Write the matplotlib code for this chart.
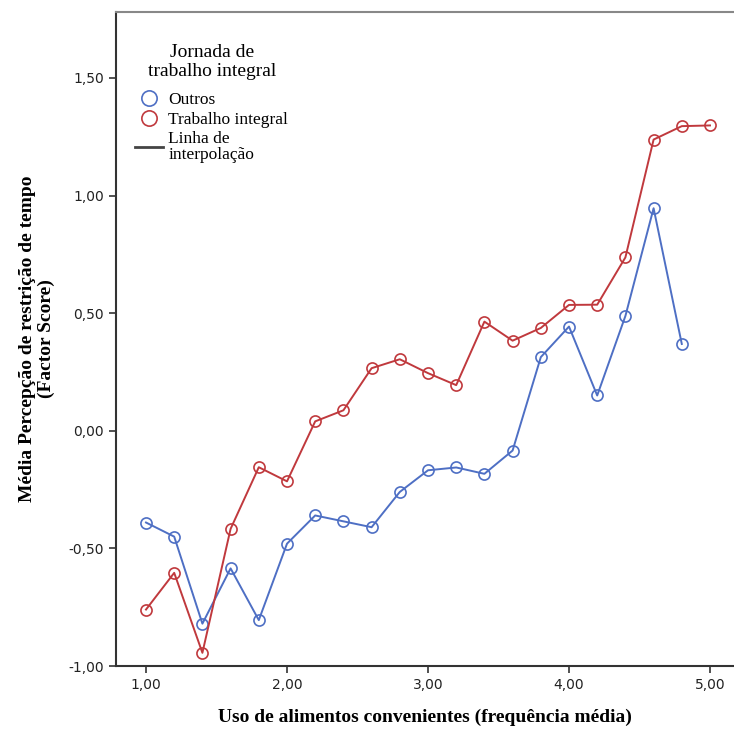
import matplotlib
matplotlib.use("Agg")
import matplotlib.pyplot as plt
from matplotlib.lines import Line2D

x_outros = [1.0, 1.2, 1.4, 1.6, 1.8, 2.0, 2.2, 2.4, 2.6, 2.8, 3.0, 3.2, 3.4, 3.6, 3.8, 4.0, 4.2, 4.4, 4.6, 4.8]
y_outros = [-0.39, -0.45, -0.82, -0.585, -0.805, -0.48, -0.36, -0.385, -0.41, -0.26, -0.168, -0.156, -0.183, -0.084, 0.313, 0.443, 0.15, 0.488, 0.946, 0.369]

x_trab = [1.0, 1.2, 1.4, 1.6, 1.8, 2.0, 2.2, 2.4, 2.6, 2.8, 3.0, 3.2, 3.4, 3.6, 3.8, 4.0, 4.2, 4.4, 4.6, 4.8, 5.0]
y_trab = [-0.76, -0.604, -0.944, -0.417, -0.155, -0.215, 0.04, 0.087, 0.266, 0.304, 0.245, 0.194, 0.464, 0.383, 0.437, 0.535, 0.536, 0.737, 1.238, 1.295, 1.298]

xticks = [1.0, 2.0, 3.0, 4.0, 5.0]
xtick_labels = ["1,00", "2,00", "3,00", "4,00", "5,00"]
yticks = [-1.0, -0.5, 0.0, 0.5, 1.0, 1.5]
ytick_labels = ["-1,00", "-0,50", "0,00", "0,50", "1,00", "1,50"]

blue = "#4e6fc4"
red = "#c0393d"

fig = plt.figure(figsize=(7.34, 7.31), dpi=100)
ax = fig.add_axes([116/734, 1 - 666/731, 1 - 116/734, (666 - 12)/731])

ax.plot(x_outros, y_outros, color=blue, lw=1.4, marker="o", ms=8, mfc="none", mec=blue, mew=1.2)
ax.plot(x_trab, y_trab, color=red, lw=1.4, marker="o", ms=8, mfc="none", mec=red, mew=1.2)

ax.set_xlim(1 - 30/141, 1 - 30/141 + 618/141)
ax.set_ylim(-1.0, 1.5 + 66/235.5)

ax.set_xticks(xticks)
ax.set_xticklabels(xtick_labels, fontsize=10, family="DejaVu Sans", color="#222222")
ax.set_yticks(yticks)
ax.set_yticklabels(ytick_labels, fontsize=10, family="DejaVu Sans", color="#222222")
ax.tick_params(direction="out", length=5, width=1.2, color="#333333")

ax.spines["right"].set_visible(False)
ax.spines["top"].set_color("#888888")
ax.spines["top"].set_linewidth(1.5)
for s in ["left", "bottom"]:
    ax.spines[s].set_color("#333333")
    ax.spines[s].set_linewidth(1.5)

ax.set_xlabel("Uso de alimentos convenientes (frequência média)", fontsize=14,
              family="Liberation Serif", fontweight="bold", labelpad=12)
ax.set_ylabel("Média Percepção de restrição de tempo\n(Factor Score)", fontsize=14,
              family="Liberation Serif", fontweight="bold", labelpad=10, linespacing=1.12)

handles = [
    Line2D([], [], ls="none", marker="o", ms=11, mfc="none", mec=blue, mew=1.2),
    Line2D([], [], ls="none", marker="o", ms=11, mfc="none", mec=red, mew=1.2),
    Line2D([], [], color="#444444", lw=2),
]
labels = ["Outros", "Trabalho integral", "Linha de\ninterpolação"]
leg = ax.legend(handles, labels, title="Jornada de\ntrabalho integral", loc="upper left",
                bbox_to_anchor=(0.02, 0.962), frameon=False,
                prop={"family": "Liberation Serif", "size": 12.5},
                title_fontproperties={"family": "Liberation Serif", "size": 14},
                handlelength=1.6, handletextpad=0.3, labelspacing=0.2, borderaxespad=0)
leg._legend_box.align = "center"
leg.get_title().set_multialignment("center")
leg.get_title().set_linespacing(1.15)
for t in leg.get_texts():
    t.set_linespacing(1.0)
leg._legend_box.sep = 9

fig.savefig("out.png", dpi=100)
